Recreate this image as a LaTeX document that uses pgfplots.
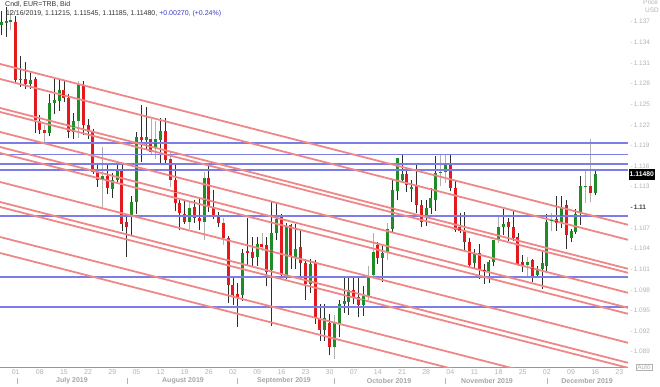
\documentclass[border=0pt]{standalone}
\usepackage{fontspec}
\setmainfont{Liberation Sans}
\usepackage{pgfplots}
\usepackage{pgfplotstable}
\pgfplotsset{compat=1.18}
\definecolor{cred}{RGB}{226,26,30}
\definecolor{cgreen}{RGB}{32,140,40}
\definecolor{tline}{RGB}{240,135,135}
\definecolor{hline}{RGB}{125,125,232}
\definecolor{wdark}{RGB}{45,45,45}
\definecolor{wlight}{RGB}{175,175,175}
\definecolor{lbl}{RGB}{178,178,178}
\definecolor{mlbl}{RGB}{165,165,165}
\definecolor{chg}{RGB}{60,60,200}

\pgfplotstableread{
i o h l c w
-3 1.1365 1.1386 1.1350 1.1369 0
-2 1.1369 1.1392 1.1348 1.1370 0
-1 1.1370 1.1387 1.1358 1.1372 1
0 1.1370 1.1378 1.1281 1.1285 0
1 1.1285 1.1320 1.1275 1.1287 0
2 1.1286 1.1312 1.1272 1.1279 0
3 1.1279 1.1295 1.1272 1.1285 0
4 1.1286 1.1290 1.1208 1.1227 0
5 1.1225 1.1234 1.1206 1.1213 0
6 1.1213 1.1220 1.1195 1.1208 1
7 1.1208 1.1265 1.1203 1.1252 0
8 1.1252 1.1286 1.1235 1.1256 0
9 1.1255 1.1287 1.1240 1.1271 0
10 1.1270 1.1285 1.1253 1.1259 0
11 1.1259 1.1265 1.1201 1.1210 0
12 1.1210 1.1237 1.1200 1.1225 0
13 1.1225 1.1283 1.1201 1.1280 1
14 1.1277 1.1283 1.1205 1.1220 0
15 1.1220 1.1228 1.1200 1.1210 0
16 1.1210 1.1214 1.1148 1.1152 0
17 1.1152 1.1163 1.1130 1.1140 0
18 1.1140 1.1187 1.1101 1.1145 1
19 1.1145 1.1162 1.1120 1.1128 0
20 1.1127 1.1150 1.1114 1.1140 0
21 1.1140 1.1166 1.1135 1.1155 0
22 1.1154 1.1163 1.1065 1.1075 0
23 1.1079 1.1089 1.1027 1.1072 0
24 1.1086 1.1117 1.1060 1.1108 0
25 1.1108 1.1209 1.1090 1.1202 0
26 1.1203 1.1249 1.1166 1.1198 0
27 1.1198 1.1246 1.1185 1.1202 0
28 1.1200 1.1228 1.1176 1.1180 1
29 1.1186 1.1225 1.1170 1.1200 1
30 1.1198 1.1230 1.1165 1.1211 0
31 1.1211 1.1230 1.1162 1.1169 0
32 1.1170 1.1180 1.1130 1.1140 1
33 1.1140 1.1165 1.1094 1.1106 0
34 1.1106 1.1114 1.1067 1.1091 0
35 1.1091 1.1110 1.1075 1.1078 0
36 1.1079 1.1108 1.1069 1.1099 1
37 1.1101 1.1110 1.1077 1.1085 0
38 1.1085 1.1113 1.1067 1.1080 0
39 1.1078 1.1152 1.1052 1.1143 1
40 1.1142 1.1164 1.1093 1.1101 0
41 1.1101 1.1125 1.1083 1.1089 0
42 1.1089 1.1093 1.1071 1.1077 0
43 1.1077 1.1085 1.1045 1.1055 1
44 1.1056 1.1058 1.0961 1.0987 0
45 1.0987 1.0998 1.0958 1.0972 0
46 1.0974 1.0990 1.0926 1.0970 0
47 1.0972 1.1040 1.0964 1.1034 0
48 1.1036 1.1085 1.1016 1.1033 0
49 1.1035 1.1057 1.1014 1.1027 0
50 1.1027 1.1057 1.1015 1.1047 0
51 1.1047 1.1062 1.1036 1.1043 1
52 1.1045 1.1057 1.0985 1.1006 0
53 1.1009 1.1108 1.0927 1.1062 0
54 1.1062 1.1108 1.1052 1.1083 0
55 1.1086 1.1090 1.0995 1.1002 0
56 1.1002 1.1077 1.0995 1.1072 0
57 1.1074 1.1076 1.1010 1.1028 0
58 1.1028 1.1075 1.1010 1.1040 0
59 1.1043 1.1067 1.1000 1.1019 0
60 1.1019 1.1025 1.0965 1.0989 0
61 1.0989 1.1025 1.0975 1.1018 0
62 1.1021 1.1024 1.0930 1.0939 0
63 1.0939 1.0960 1.0905 1.0922 0
64 1.0922 1.0959 1.0906 1.0939 0
65 1.0931 1.0945 1.0885 1.0897 0
66 1.0897 1.0943 1.0879 1.0931 1
67 1.0931 1.0965 1.0912 1.0960 0
68 1.0960 1.0997 1.0946 1.0963 0
69 1.0963 1.0999 1.0944 1.0980 0
70 1.0980 1.0999 1.0960 1.0969 0
71 1.0970 1.0999 1.0940 1.0958 0
72 1.0958 1.0985 1.0942 1.0971 0
73 1.0970 1.1015 1.0965 1.1000 1
74 1.1002 1.1062 1.0999 1.1035 1
75 1.1045 1.1050 1.1018 1.1026 0
76 1.1026 1.1045 1.0991 1.1033 0
77 1.1033 1.1077 1.1024 1.1069 1
78 1.1069 1.1139 1.1062 1.1125 0
79 1.1123 1.1172 1.1110 1.1171 0
80 1.1139 1.1178 1.1135 1.1149 0
81 1.1149 1.1155 1.1122 1.1132 0
82 1.1127 1.1140 1.1107 1.1130 0
83 1.1132 1.1162 1.1091 1.1103 0
84 1.1103 1.1110 1.1072 1.1079 0
85 1.1086 1.1110 1.1073 1.1099 0
86 1.1099 1.1128 1.1090 1.1113 0
87 1.1111 1.1175 1.1095 1.1150 0
88 1.1150 1.1177 1.1131 1.1152 1
89 1.1152 1.1176 1.1135 1.1162 1
90 1.1164 1.1176 1.1123 1.1128 0
91 1.1128 1.1140 1.1064 1.1067 0
92 1.1072 1.1092 1.1062 1.1065 0
93 1.1067 1.1093 1.1036 1.1050 0
94 1.1050 1.1055 1.1013 1.1016 0
95 1.1019 1.1040 1.1012 1.1033 0
96 1.1033 1.1047 1.0996 1.1009 0
97 1.1009 1.1018 1.0989 1.1006 0
98 1.1006 1.1024 1.0990 1.1021 0
99 1.1021 1.1053 1.1014 1.1052 0
100 1.1052 1.1089 1.1048 1.1072 1
101 1.1071 1.1097 1.1059 1.1076 0
102 1.1079 1.1085 1.1051 1.1071 0
103 1.1072 1.1096 1.1051 1.1055 0
104 1.1057 1.1062 1.1014 1.1016 0
105 1.1021 1.1030 1.1006 1.1016 0
106 1.1016 1.1028 1.1000 1.1021 1
107 1.1023 1.1025 1.0992 1.0999 0
108 1.1002 1.1015 1.0997 1.1009 0
109 1.1010 1.1037 1.0981 1.1019 0
110 1.1014 1.1090 1.1005 1.1079 0
111 1.1080 1.1091 1.1066 1.1082 1
112 1.1083 1.1116 1.1066 1.1077 0
113 1.1077 1.1116 1.1070 1.1099 0
114 1.1103 1.1111 1.1040 1.1060 0
115 1.1056 1.1068 1.1050 1.1065 0
116 1.1064 1.1097 1.1061 1.1091 0
117 1.1091 1.1145 1.1074 1.1131 0
118 1.1130 1.1155 1.1106 1.1131 1
119 1.1131 1.1200 1.1107 1.1121 1
120 1.11215 1.11545 1.11185 1.11480 0
}\ohlc

\pgfplotsset{
  wick/.style={only marks, mark=*, mark options={draw opacity=0, fill opacity=0},
    error bars/y dir=plus, error bars/y explicit, error bars/error mark=none,
    error bars/error bar style={#1, line width=0.8pt}},
  body/.style={only marks, mark=-, mark size=1.5pt, mark options={#1, line width=1pt},
    error bars/y dir=both, error bars/y explicit, error bars/error mark=none,
    error bars/error bar style={#1, line width=3pt}},
  tl/.style={tline, line width=1.8pt},
  hl/.style={hline, line width=1.8pt},
}

\begin{document}
\begin{tikzpicture}
\begin{axis}[
  at={(0pt,0pt)}, anchor=south west,
  width=628pt, height=367pt, scale only axis,
  xmin=-3.25, xmax=126.8, ymin=1.08677, ymax=1.14015,
  axis x line*=bottom, axis y line*=right,
  x axis line style={draw={rgb,255:red,150;green,150;blue,150}, line width=0.8pt},
  y axis line style={draw=none},
  xtick={0,5,...,125},
  xticklabels={01,08,15,22,29,05,12,19,26,02,09,16,23,30,07,14,21,28,04,11,18,25,02,09,16,23},
  xticklabel style={font=\fontsize{7}{8}\selectfont, text=lbl, anchor=north, yshift=0.5pt},
  xtick style={draw=none},
  ytick={1.089,1.092,1.095,1.098,1.101,1.104,1.107,1.11,1.113,1.116,1.119,1.122,1.125,1.128,1.131,1.134,1.137},
  yticklabels={{-\,1.089},{-\,1.092},{-\,1.095},{-\,1.098},{-\,1.101},{-\,1.104},{-\,1.107},{\textcolor{black!75}{\textbf{-\,1.11}}},{-\,1.113},{-\,1.116},{-\,1.119},{-\,1.122},{-\,1.125},{-\,1.128},{-\,1.131},{-\,1.134},{-\,1.137}},
  yticklabel style={font=\fontsize{6.5}{7}\selectfont, text=lbl, anchor=west, xshift=-1pt},
  ytick style={draw=none},
  clip=true,
]
% wicks
\addplot[wick=wdark, restrict expr to domain={\thisrow{w}}{-0.5:0.5}]
  table[x=i, y=l, y error expr={\thisrow{h}-\thisrow{l}}] {\ohlc};
\addplot[wick=wlight, restrict expr to domain={\thisrow{w}}{0.5:1.5}]
  table[x=i, y=l, y error expr={\thisrow{h}-\thisrow{l}}] {\ohlc};
% up bodies
\addplot[body=cgreen, restrict expr to domain={\thisrow{c}-\thisrow{o}}{0:1}]
  table[x=i, y expr={(\thisrow{o}+\thisrow{c})/2}, y error expr={(\thisrow{c}-\thisrow{o})/2}] {\ohlc};
% down bodies
\addplot[body=cred, restrict expr to domain={\thisrow{o}-\thisrow{c}}{0.000001:1}]
  table[x=i, y expr={(\thisrow{o}+\thisrow{c})/2}, y error expr={(\thisrow{o}-\thisrow{c})/2}] {\ohlc};
% horizontal levels
\addplot[hl] coordinates {(-3.25,1.11931) (126.8,1.11931)};
\addplot[hl] coordinates {(-3.25,1.11768) (126.8,1.11768)};
\addplot[hl] coordinates {(-3.25,1.11627) (126.8,1.11627)};
\addplot[hl] coordinates {(-3.25,1.11543) (126.8,1.11543)};
\addplot[hl] coordinates {(-3.25,1.10873) (126.8,1.10873)};
\addplot[hl] coordinates {(-3.25,1.09991) (126.8,1.09991)};
\addplot[hl] coordinates {(-3.25,1.09554) (126.8,1.09554)};
% trend lines
\addplot[tl] coordinates {(-3.25,1.130844) (126.8,1.107455)};
\addplot[tl] coordinates {(-3.25,1.128662) (126.8,1.105273)};
\addplot[tl] coordinates {(-3.25,1.124444) (126.8,1.101055)};
\addplot[tl] coordinates {(-3.25,1.123862) (126.8,1.100473)};
\addplot[tl] coordinates {(-3.25,1.120953) (126.8,1.097564)};
\addplot[tl] coordinates {(-3.25,1.118771) (126.8,1.095382)};
\addplot[tl] coordinates {(-3.25,1.117898) (126.8,1.094509)};
\addplot[tl] coordinates {(-3.25,1.113680) (126.8,1.090291)};
\addplot[tl] coordinates {(-3.25,1.110771) (126.8,1.087382)};
\addplot[tl] coordinates {(-3.25,1.110044) (126.8,1.086655)};
\addplot[tl] coordinates {(-3.25,1.105680) (126.8,1.082291)};
\addplot[tl] coordinates {(-3.25,1.103353) (126.8,1.079964)};
\end{axis}
% header text
\node[anchor=north west, inner sep=0pt, font=\fontsize{7}{8}\selectfont, text=black!80] at (5pt,366pt) {Cndl, EUR=TRB, Bid};
\node[anchor=north west, inner sep=0pt, font=\fontsize{7}{8}\selectfont, text=black!80] at (6pt,357pt) {12/16/2019, 1.11215, 1.11545, 1.11185, 1.11480, \textcolor{chg}{+0.00270, (+0.24\%)}};
\node[anchor=north west, inner sep=0pt, font=\fontsize{6.5}{7}\selectfont, text=lbl] at (643pt,367pt) {Price};
\node[anchor=north west, inner sep=0pt, font=\fontsize{6.5}{7}\selectfont, text=lbl] at (645pt,359pt) {USD};
% last price box
\node[anchor=west, fill=black, text=white, inner xsep=1pt, inner ysep=0pt, minimum height=11pt, font=\bfseries\fontsize{6.8}{7}\selectfont] at (628.5pt,192.5pt) {1.11480};
% auto box
\node[draw=lbl, text=lbl, inner xsep=1.5pt, inner ysep=0.5pt, font=\fontsize{6.5}{7}\selectfont] at (644pt,0pt) {Auto};
% months
\foreach \mx/\mt in {72/July 2019,183/August 2019,284/September 2019,389/October 2019,487/November 2019,587/December 2019}
  \node[font=\bfseries\fontsize{7}{8}\selectfont, text=mlbl] at (\mx pt,-14pt) {\mt};
\foreach \sx in {17,127,237,334,445,547}
  \draw[lbl, line width=0.6pt] (\sx pt,-11pt) -- (\sx pt,-17pt);
\pgfresetboundingbox
\useasboundingbox (0pt,-19pt) rectangle (660pt,367pt);
\end{tikzpicture}
\end{document}
